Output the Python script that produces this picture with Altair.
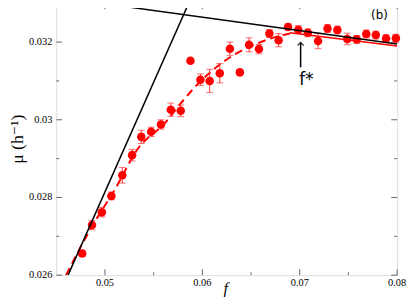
import altair as alt
import pandas as pd

# measured data points (f, mu, error)
f_pts = [0.04766, 0.04867, 0.04968, 0.05066, 0.05178, 0.05279, 0.05373, 0.05474,
         0.05575, 0.05676, 0.05778, 0.05878, 0.05980, 0.06075, 0.06179, 0.06283,
         0.06385, 0.06480, 0.06581, 0.06688, 0.06783, 0.06880, 0.06985, 0.07083,
         0.07188, 0.07285, 0.07386, 0.07488, 0.07585, 0.07683, 0.07781, 0.07886,
         0.07987]
mu_pts = [0.02656, 0.02729, 0.02762, 0.02804, 0.02857, 0.02909, 0.02956, 0.02969,
          0.02988, 0.03026, 0.03023, 0.03152, 0.03103, 0.03100, 0.03120, 0.03183,
          0.03122, 0.03193, 0.03182, 0.03222, 0.03205, 0.03239, 0.03232, 0.03224,
          0.03203, 0.03235, 0.03231, 0.03208, 0.03207, 0.03221, 0.03218, 0.03209,
          0.03210]
err_pts = [0.00008, 0.00012, 0.00012, 0.00010, 0.00020, 0.00015, 0.00017, 0.00012,
           0.00012, 0.00017, 0.00015, 0.00005, 0.00015, 0.00030, 0.00025, 0.00017,
           0.00005, 0.00018, 0.00012, 0.00010, 0.00017, 0.00008, 0.00010, 0.00010,
           0.00020, 0.00010, 0.00010, 0.00015, 0.00010, 0.00010, 0.00010, 0.00010,
           0.00010]

# dashed red fit curve
fit_f = [0.0460, 0.0487, 0.0510, 0.0534, 0.0561, 0.0580, 0.0595, 0.0622,
         0.0645, 0.0659, 0.0676, 0.0690]
fit_mu = [0.02600, 0.02727, 0.02820, 0.02926, 0.02990, 0.03049, 0.03091, 0.03150,
          0.03184, 0.03199, 0.03214, 0.03222]

# solid red plateau fit
plat_f = [0.0690, 0.0800]
plat_mu = [0.03224, 0.03190]

# black tangent lines
steep_f = [0.04621, 0.05863]
steep_mu = [0.02600, 0.03302]
flat_f = [0.04902, 0.08000]
flat_mu = [0.03302, 0.03195]

# arrow and labels
arrow_f = [0.07009, 0.07009]
arrow_mu = [0.03135, 0.03199]
fstar_label = "f*"
fstar_pos = (0.07069, 0.03103)
panel_label = "(b)"
panel_pos = (0.07818, 0.03270)

x_major = [0.05, 0.06, 0.07, 0.08]
x_labels = ["0.05", "0.06", "0.07", "0.08"]
x_minor = [0.055, 0.065, 0.075]
y_major = [0.026, 0.028, 0.030, 0.032]
y_labels = ["0.026", "0.028", "0.03", "0.032"]
y_minor = [0.027, 0.029, 0.031]
x_title = "f"
y_title = "μ (h⁻¹)"

W, H = 346, 276
GRAY = "#666666"
RED = "#ff0000"
SERIF = "Liberation Serif, Times New Roman, DejaVu Serif, serif"

xs = alt.Scale(domain=[0.045, 0.08], nice=False, zero=False)
ys = alt.Scale(domain=[0.026, 0.033], nice=False, zero=False)

pts = pd.DataFrame({"f": f_pts, "mu": mu_pts, "err": err_pts})
fit = pd.DataFrame({"f": fit_f, "mu": fit_mu})
plat = pd.DataFrame({"f": plat_f, "mu": plat_mu})
steep = pd.DataFrame({"f": steep_f, "mu": steep_mu})
flat = pd.DataFrame({"f": flat_f, "mu": flat_mu})

def X(field="f"):
    return alt.X(f"{field}:Q", scale=xs, axis=None)

def Y(field="mu"):
    return alt.Y(f"{field}:Q", scale=ys, axis=None)

def tick_layer(vals, axis, side, length):
    df = pd.DataFrame({"v": vals})
    c = alt.Chart(df).mark_rule(color=GRAY, strokeWidth=1)
    if axis == "x":
        if side == "bottom":
            return c.encode(x=X("v"), y=alt.value(H), y2=alt.value(H - length))
        return c.encode(x=X("v"), y=alt.value(0), y2=alt.value(length))
    if side == "left":
        return c.encode(y=Y("v"), x=alt.value(0), x2=alt.value(length))
    return c.encode(y=Y("v"), x=alt.value(W), x2=alt.value(W - length))

ticks = [
    tick_layer(x_major, "x", "bottom", 6), tick_layer(x_minor, "x", "bottom", 3),
    tick_layer(x_major, "x", "top", 6), tick_layer(x_minor, "x", "top", 3),
    tick_layer(y_major, "y", "left", 6), tick_layer(y_minor, "y", "left", 3),
    tick_layer(y_major, "y", "right", 6), tick_layer(y_minor, "y", "right", 3),
]

# tick labels and titles as text
xlab = alt.Chart(pd.DataFrame({"v": x_major, "t": x_labels})).mark_text(
    font=SERIF, fontSize=10.5, color="black", align="center", baseline="top"
).encode(x=X("v"), y=alt.value(H + 3), text="t:N")
ylab = alt.Chart(pd.DataFrame({"v": y_major, "t": y_labels})).mark_text(
    font=SERIF, fontSize=10.5, color="black", align="right", baseline="middle"
).encode(y=Y("v"), x=alt.value(-4), text="t:N")
xtitle = alt.Chart(pd.DataFrame({"t": [x_title]})).mark_text(
    font=SERIF, fontSize=16, fontStyle="italic", color="black", align="center", baseline="top"
).encode(x=alt.value(W / 2 - 1), y=alt.value(H + 6), text="t:N")
ytitle = alt.Chart(pd.DataFrame({"t": [y_title]})).mark_text(
    font=SERIF, fontSize=18, color="black", align="center", baseline="middle", angle=270
).encode(x=alt.value(-39), y=alt.value(H / 2), text="t:N")

fit_line = alt.Chart(fit).mark_line(
    color=RED, strokeWidth=2, strokeDash=[8, 5], interpolate="monotone", clip=True
).encode(x=X(), y=Y())

plat_line = alt.Chart(plat).mark_line(color=RED, strokeWidth=1.5, clip=True).encode(x=X(), y=Y())

ebase = alt.Chart(pts).transform_calculate(
    lo="datum.mu - datum.err", hi="datum.mu + datum.err"
)
ebar = ebase.mark_rule(color="#ff3333", strokeWidth=1).encode(x=X(), y=Y("lo"), y2="hi:Q")
ecap_lo = ebase.mark_tick(color="#ff3333", orient="horizontal", size=7, thickness=1).encode(x=X(), y=Y("lo"))
ecap_hi = ebase.mark_tick(color="#ff3333", orient="horizontal", size=7, thickness=1).encode(x=X(), y=Y("hi"))

points = alt.Chart(pts).mark_circle(color=RED, size=75, opacity=1).encode(x=X(), y=Y())

steep_line = alt.Chart(steep).mark_line(color="black", strokeWidth=1.5, clip=True).encode(x=X(), y=Y())
flat_line = alt.Chart(flat).mark_line(color="black", strokeWidth=1.5, clip=True).encode(x=X(), y=Y())

arrow_df = pd.DataFrame({"f": arrow_f, "mu": arrow_mu})
arrow_line = alt.Chart(arrow_df).mark_line(color="black", strokeWidth=1.5).encode(x=X(), y=Y())
arrow_head = alt.Chart(pd.DataFrame({"f": [arrow_f[1]], "mu": [arrow_mu[1]]})).mark_point(
    shape="M -1 1 L 0 0 L 1 1", filled=False, color="black", size=40, strokeWidth=1.5
).encode(x=X(), y=Y())

fstar = alt.Chart(pd.DataFrame({"f": [fstar_pos[0]], "mu": [fstar_pos[1]], "t": [fstar_label]})).mark_text(
    font="DejaVu Sans", fontSize=17, color="black", align="center", baseline="middle"
).encode(x=X(), y=Y(), text="t:N")

panel = alt.Chart(pd.DataFrame({"f": [panel_pos[0]], "mu": [panel_pos[1]], "t": [panel_label]})).mark_text(
    font="DejaVu Sans", fontSize=12, color="black", align="center", baseline="middle"
).encode(x=X(), y=Y(), text="t:N")

chart = alt.layer(
    *ticks, fit_line, plat_line, ebar, ecap_lo, ecap_hi, points,
    steep_line, flat_line, arrow_line, arrow_head, fstar, panel,
    xlab, ylab, xtitle, ytitle
).properties(
    width=W, height=H,
    autosize=alt.AutoSizeParams(type="none"),
    padding={"left": 49, "top": -7, "right": 10, "bottom": 20},
).configure_view(stroke=GRAY, strokeWidth=1).configure(background="white")

chart.save("out.html", embed_options={"renderer": "svg", "actions": False})
